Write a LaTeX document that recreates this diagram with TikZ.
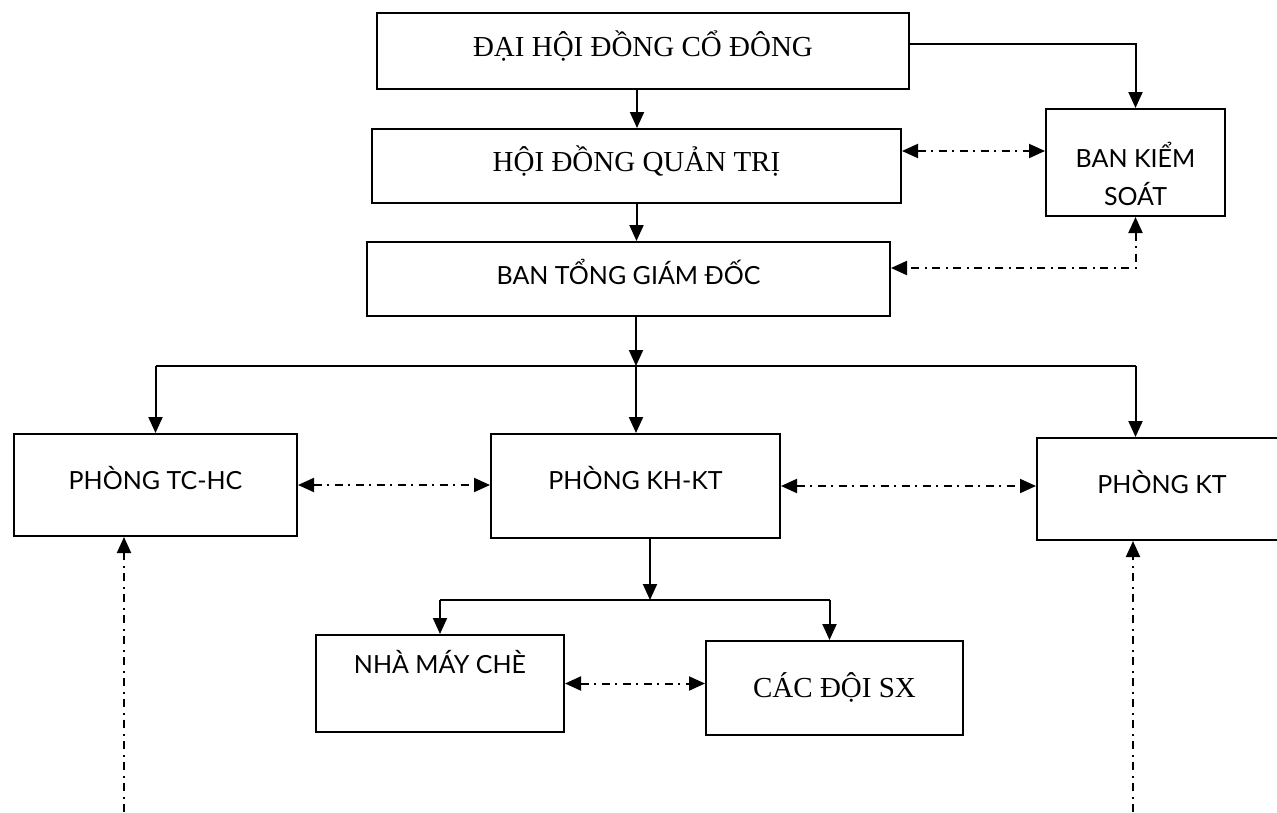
\documentclass[tikz,border=0pt]{standalone}
\usepackage{fontspec}
\setmainfont{Liberation Serif}
\newfontfamily\latofont{Lato}
\usetikzlibrary{arrows.meta}
\begin{document}
\begin{tikzpicture}[x=1pt,y=-1pt,
  box/.style={draw, line width=2pt, inner sep=0pt, anchor=north west, align=center},
  serifbig/.style={font=\fontsize{29}{34}\selectfont},
  sansbig/.style={font=\latofont\fontsize{25}{38}\selectfont},
  tip/.tip={Triangle[length=16pt,width=14pt]},
  con/.style={line width=2pt, -tip},
  ln/.style={line width=2pt},
  dd/.style={line width=2pt, dash pattern=on 8pt off 5.5pt on 2pt off 5.5pt, tip-tip},
  du/.style={line width=2pt, dash pattern=on 8pt off 5.5pt on 2pt off 5.5pt, -tip}
]
\useasboundingbox (0,0) rectangle (1277,812);

\node[box, serifbig, minimum width=532pt, minimum height=76pt, text height=10pt, text depth=0pt] (dh) at (376,12) {ĐẠI HỘI ĐỒNG CỔ ĐÔNG};
\node[box, serifbig, minimum width=529pt, minimum height=74pt, text height=10pt, text depth=0pt] (hq) at (371,128) {HỘI ĐỒNG QUẢN TRỊ};
\node[box, sansbig, minimum width=179pt, minimum height=107pt, text height=85pt, text depth=0pt] (ks) at (1045,108) {BAN KIỂM\\SOÁT};
\node[box, sansbig, minimum width=523pt, minimum height=74pt, text height=11pt, text depth=0pt] (tg) at (366,241) {BAN TỔNG GIÁM ĐỐC};
\node[box, sansbig, minimum width=283pt, minimum height=102pt, text height=8pt, text depth=0pt] (tc) at (13,433) {PHÒNG TC-HC};
\node[box, sansbig, minimum width=289pt, minimum height=104pt, text height=6pt, text depth=0pt] (kh) at (490,433) {PHÒNG KH-KT};
\node[box, sansbig, minimum width=250pt, minimum height=102pt, text height=8pt, text depth=0pt] (kt) at (1036,437) {PHÒNG KT};
\node[box, sansbig, minimum width=248pt, minimum height=97pt, text height=0pt, text depth=21pt] (nm) at (315,634) {NHÀ MÁY CHÈ};
\node[box, serifbig, minimum width=257pt, minimum height=94pt, text height=18pt, text depth=0pt] (sx) at (705,640) {CÁC ĐỘI SX};

\coordinate (bus) at (636,366);
\coordinate (bus2) at (650,600);
\coordinate (bl) at (124,812);
\coordinate (br) at (1133,812);

\draw[con] ([xshift=-6pt]dh.south) -- ([xshift=-6pt]dh.south |- hq.north);
\draw[con] ([yshift=7pt]dh.east) -| (ks.north);
\draw[dd] ([yshift=15pt]hq.east) -- ([yshift=15pt]hq.east -| ks.west);
\draw[con] (hq.south) -- (hq.south |- tg.north);
\draw[dd] (ks.south) |- ([yshift=11pt]tg.east);
\draw[con] (bus |- tg.south) -- (bus);
\draw[ln] (bus -| tc.north) -- (bus -| ks.south);
\draw[con] (bus -| tc.north) -- (tc.north);
\draw[con] (bus) -- (bus |- kh.north);
\draw[con] (bus -| ks.south) -- (ks.south |- kt.north);
\draw[dd] (tc.east) -- (tc.east -| kh.west);
\draw[dd] (kh.east) -- (kh.east -| kt.west);
\draw[con] (bus2 |- kh.south) -- (bus2);
\draw[ln] (bus2 -| nm.north) -- ([xshift=-5pt]bus2 -| sx.north);
\draw[con] (bus2 -| nm.north) -- (nm.north);
\draw[con] ([xshift=-5pt]bus2 -| sx.north) -- ([xshift=-5pt]sx.north);
\draw[dd] (nm.east) -- (nm.east -| sx.west);
\draw[du] (bl) -- (bl |- tc.south);
\draw[du] (br) -- (br |- kt.south);
\end{tikzpicture}
\end{document}
